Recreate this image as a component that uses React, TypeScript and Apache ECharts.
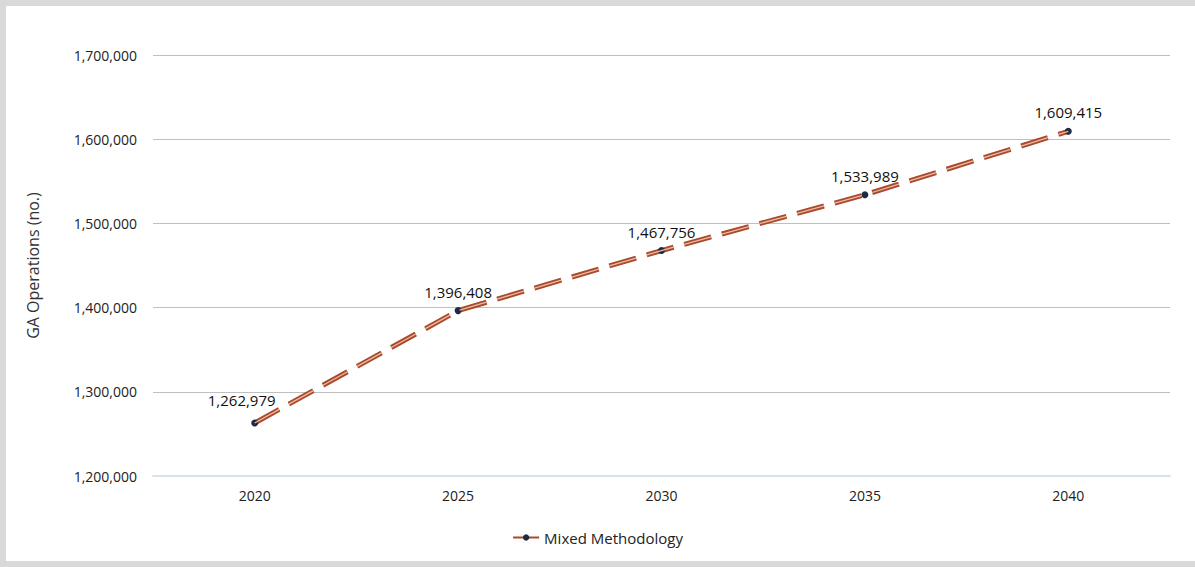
import React, { useEffect, useRef } from "react";
import * as echarts from "echarts";

const years = ["2020", "2025", "2030", "2035", "2040"];
const operations = [1262979, 1396408, 1467756, 1533989, 1609415];
const seriesName = "Mixed Methodology";
const yAxisName = "GA Operations (no.)";

const fmt = (v: number) => v.toLocaleString("en-US");
const FONT = "'Open Sans', 'Noto Sans', sans-serif";

export default function App() {
  const ref = useRef<HTMLDivElement>(null);
  useEffect(() => {
    document.body.style.margin = "0";
    const chart = echarts.init(ref.current!, null, { renderer: "svg" });
    chart.setOption({
      animation: false,
      backgroundColor: "#ffffff",
      textStyle: { fontFamily: FONT },
      graphic: [
        {
          type: "rect",
          left: 0,
          top: 0,
          shape: { x: 3, y: 3, width: 1200, height: 561 },
          style: { fill: "none", stroke: "#d9d9d9", lineWidth: 6 },
          silent: true,
        },
      ],
      grid: { left: 153, right: 25, top: 55, bottom: 91 },
      legend: {
        bottom: 17,
        left: "center",
        itemWidth: 26,
        itemHeight: 8,
        itemGap: 10,
        data: [seriesName],
        textStyle: { fontFamily: FONT, fontSize: 15, color: "#222" },
      },
      xAxis: {
        type: "category",
        data: years,
        boundaryGap: true,
        axisLine: { lineStyle: { color: "#d5e3ee", width: 2 } },
        axisTick: { show: false },
        axisLabel: { fontFamily: FONT, fontSize: 14, color: "#222", margin: 12 },
      },
      yAxis: {
        type: "value",
        min: 1200000,
        max: 1700000,
        interval: 100000,
        name: yAxisName,
        nameLocation: "middle",
        nameGap: 112,
        nameTextStyle: { fontFamily: FONT, fontSize: 16, color: "#333" },
        axisLabel: {
          fontFamily: FONT,
          fontSize: 14,
          color: "#222",
          margin: 16,
          formatter: (v: number) => fmt(v),
        },
        splitLine: { lineStyle: { color: "#bfbfbf", width: 1 } },
        axisLine: { show: false },
        axisTick: { show: false },
      },
      series: [
        {
          name: seriesName,
          type: "line",
          data: operations,
          symbol: "circle",
          symbolSize: 7,
          itemStyle: { color: "#1f2a44" },
          lineStyle: { color: "#a84a2e", width: 5, type: [28, 11] },
          label: {
            show: true,
            position: "top",
            distance: 8,
            fontFamily: FONT,
            fontSize: 15,
            color: "#111",
            formatter: (p: any) => fmt(p.value),
          },
          labelLayout: (params: any) =>
            params.dataIndex === 0 ? { dx: -13, dy: -4 } : {},
          z: 2,
        },
        {
          name: "highlight",
          type: "line",
          data: operations,
          symbol: "none",
          lineStyle: { color: "#f0b89f", width: 1.3, type: [28, 11] },
          silent: true,
          z: 3,
        },
      ],
    });
    return () => chart.dispose();
  }, []);
  return <div ref={ref} style={{ width: 1195, height: 567 }} />;
}
